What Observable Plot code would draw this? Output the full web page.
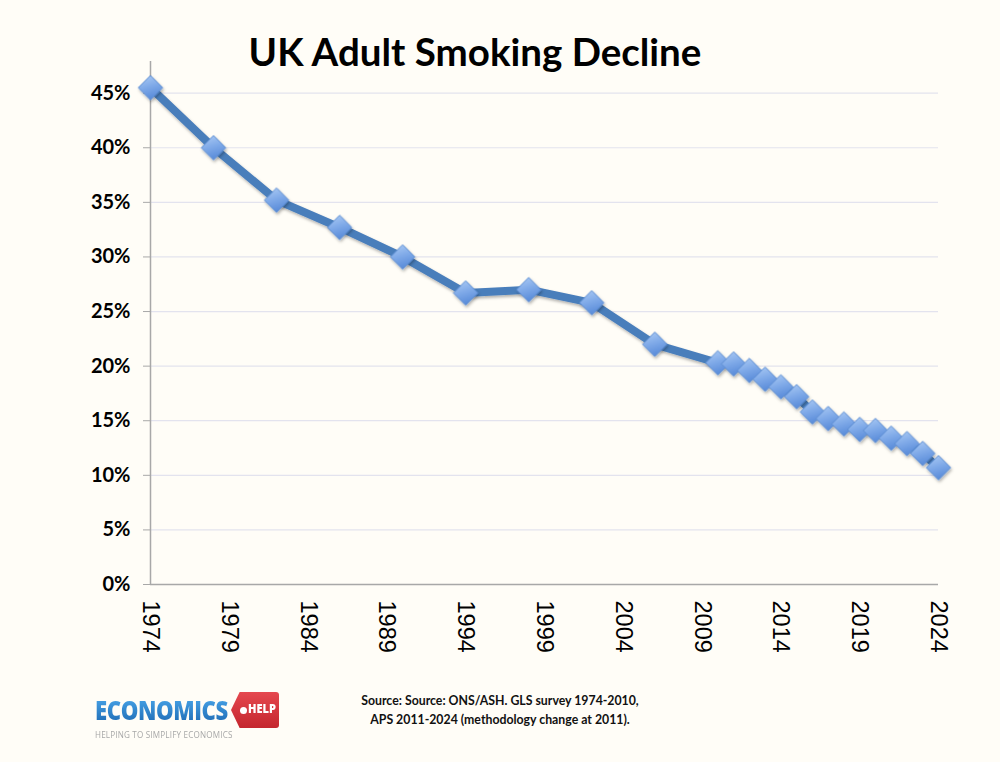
<!DOCTYPE html>
<html>
<head>
<meta charset="utf-8">
<script src="https://cdn.jsdelivr.net/npm/d3@7"></script>
<script src="https://cdn.jsdelivr.net/npm/@observablehq/plot@0.6"></script>
<style>
  html, body { margin: 0; padding: 0; background: #FFFDF7; }
  #page { position: relative; width: 1000px; height: 762px; background: #FFFDF7; overflow: hidden; }
  #title { height: 58px; margin: 0; padding: 0; font-family: Lato, "Open Sans", sans-serif; font-weight: 700;
           font-size: 38.5px; line-height: 1; text-align: center; box-sizing: border-box; padding-top: 32px; padding-right: 50px; color: #000; white-space: nowrap; overflow: visible; }
  #chart svg { display: block; overflow: visible; }
  #source { position: absolute; left: 300px; width: 400px; top: 691px; text-align: center;
            font-family: Lato, sans-serif; font-weight: 700; font-size: 12.3px; line-height: 19px; color: #111; }
  #logo { position: absolute; left: 95px; top: 692px; width: 200px; height: 50px; }
  #logo .word { position: absolute; left: 0; top: 4px; font-family: "Open Sans", Lato, sans-serif; font-weight: 800;
                font-size: 27px; letter-spacing: -0.5px; line-height: 1; transform: scaleX(0.82); transform-origin: left top;
                color: #2F8AD2; background: linear-gradient(#4AA6EA, #1F6DB6); -webkit-background-clip: text; background-clip: text; -webkit-text-fill-color: transparent; }
  #logo .tag { position: absolute; left: 136px; top: 0px; width: 48px; height: 36px; background: linear-gradient(#E5484F, #C4262E);
               clip-path: polygon(18% 0, 100% 0, 100% 100%, 18% 100%, 0 50%); border-radius: 3px; }
  #logo .tag .dot { position: absolute; left: 9px; top: 15px; width: 7px; height: 7px; border-radius: 50%; background: #fff; }
  #logo .tag .help { position: absolute; left: 17px; top: 10px; font-family: "Open Sans", sans-serif; font-weight: 800;
                     font-size: 13px; color: #fff; line-height: 1; transform: scaleX(0.85); transform-origin: left top; }
  #logo .tagline { position: absolute; left: 0; top: 36px; font-family: "Open Sans", sans-serif; font-size: 9px;
                   color: #A8A8A8; letter-spacing: 0.2px; white-space: nowrap; transform: scaleX(0.9); transform-origin: left top; }
</style>
</head>
<body>
<div id="page">
  <div id="title">UK Adult Smoking Decline</div>
  <div id="chart"></div>
  <div id="logo">
    <div class="word">ECONOMICS</div>
    <div class="tag"><div class="dot"></div><div class="help">HELP</div></div>
    <div class="tagline">HELPING TO SIMPLIFY ECONOMICS</div>
  </div>
  <div id="source">Source: Source: ONS/ASH. GLS survey 1974-2010,<br>APS 2011-2024 (methodology change at 2011).</div>
</div>
<script>
// Share of UK adults who smoke (%), GLS survey to 2010, APS from 2011
const years = [1974, 1978, 1982, 1986, 1990, 1994, 1998, 2002, 2006,
               2010, 2011, 2012, 2013, 2014, 2015, 2016, 2017, 2018, 2019, 2020, 2021, 2022, 2023, 2024];
const smokers = [45.5, 40.0, 35.2, 32.7, 30.0, 26.7, 27.0, 25.8, 22.0,
                 20.3, 20.2, 19.6, 18.8, 18.1, 17.2, 15.8, 15.2, 14.7, 14.2, 14.1, 13.4, 12.9, 12.0, 10.7];
const yTicks = [0, 5, 10, 15, 20, 25, 30, 35, 40, 45];
const xTicks = [1974, 1979, 1984, 1989, 1994, 1999, 2004, 2009, 2014, 2019, 2024];

const rows = years.map((year, i) => ({year, value: smokers[i]}));

const chart = Plot.plot({
  width: 1000,
  height: 622,
  marginLeft: 150,
  marginRight: 62,
  marginTop: 3,
  marginBottom: 96,
  style: {background: "transparent", overflow: "visible"},
  x: {domain: [1974, 2024], label: null},
  y: {domain: [0, 47.9], label: null},
  marks: [
    Plot.gridY(yTicks, {stroke: "#E3E3EE", strokeOpacity: 1, strokeWidth: 1.2}),
    Plot.ruleY([0], {stroke: "#A8A8A8", strokeWidth: 1.5}),
    Plot.ruleX([1974], {stroke: "#A8A8A8", strokeWidth: 1.5}),
    Plot.axisY({ticks: yTicks, tickSize: 7, tickPadding: 13, tickFormat: d => d + "%",
                stroke: "#A8A8A8", fill: "#000", fontSize: 20, fontWeight: "bold",
                fontFamily: "Lato, sans-serif", label: null}),
    Plot.axisX({ticks: xTicks, tickSize: 0, tickPadding: 16, tickRotate: 90, tickFormat: d => String(d),
                fill: "#000", fontSize: 23.5, fontFamily: "'Liberation Sans', Arial, sans-serif", label: null}),
    Plot.line(rows, {x: "year", y: "value", stroke: "#4A7EBB", strokeWidth: 8,
                     strokeLinejoin: "round", strokeLinecap: "round"}),
    Plot.dot(rows, {x: "year", y: "value", symbol: "diamond2", r: 11,
                    fill: "url(#diamondFill)", stroke: "#5C8DD2", strokeWidth: 1})
  ]
});

// Gradient fill and soft shadow for the diamond markers
const svg = d3.select(chart);
const defs = svg.insert("defs", ":first-child");
const grad = defs.append("linearGradient").attr("id", "diamondFill")
  .attr("x1", "0").attr("y1", "0").attr("x2", "0.3").attr("y2", "1");
grad.append("stop").attr("offset", "0%").attr("stop-color", "#AFCDF5");
grad.append("stop").attr("offset", "55%").attr("stop-color", "#7EA9E8");
grad.append("stop").attr("offset", "100%").attr("stop-color", "#5B8DDA");
const shadow = defs.append("filter").attr("id", "softShadow")
  .attr("x", "-50%").attr("y", "-50%").attr("width", "200%").attr("height", "200%");
shadow.append("feDropShadow").attr("dx", 1).attr("dy", 2).attr("stdDeviation", 1.5)
  .attr("flood-color", "#000").attr("flood-opacity", 0.3);
svg.select('g[aria-label="dot"]').attr("filter", "url(#softShadow)");
svg.select('g[aria-label="line"]').attr("filter", "url(#softShadow)");

document.getElementById("chart").appendChild(chart);
</script>
</body>
</html>
